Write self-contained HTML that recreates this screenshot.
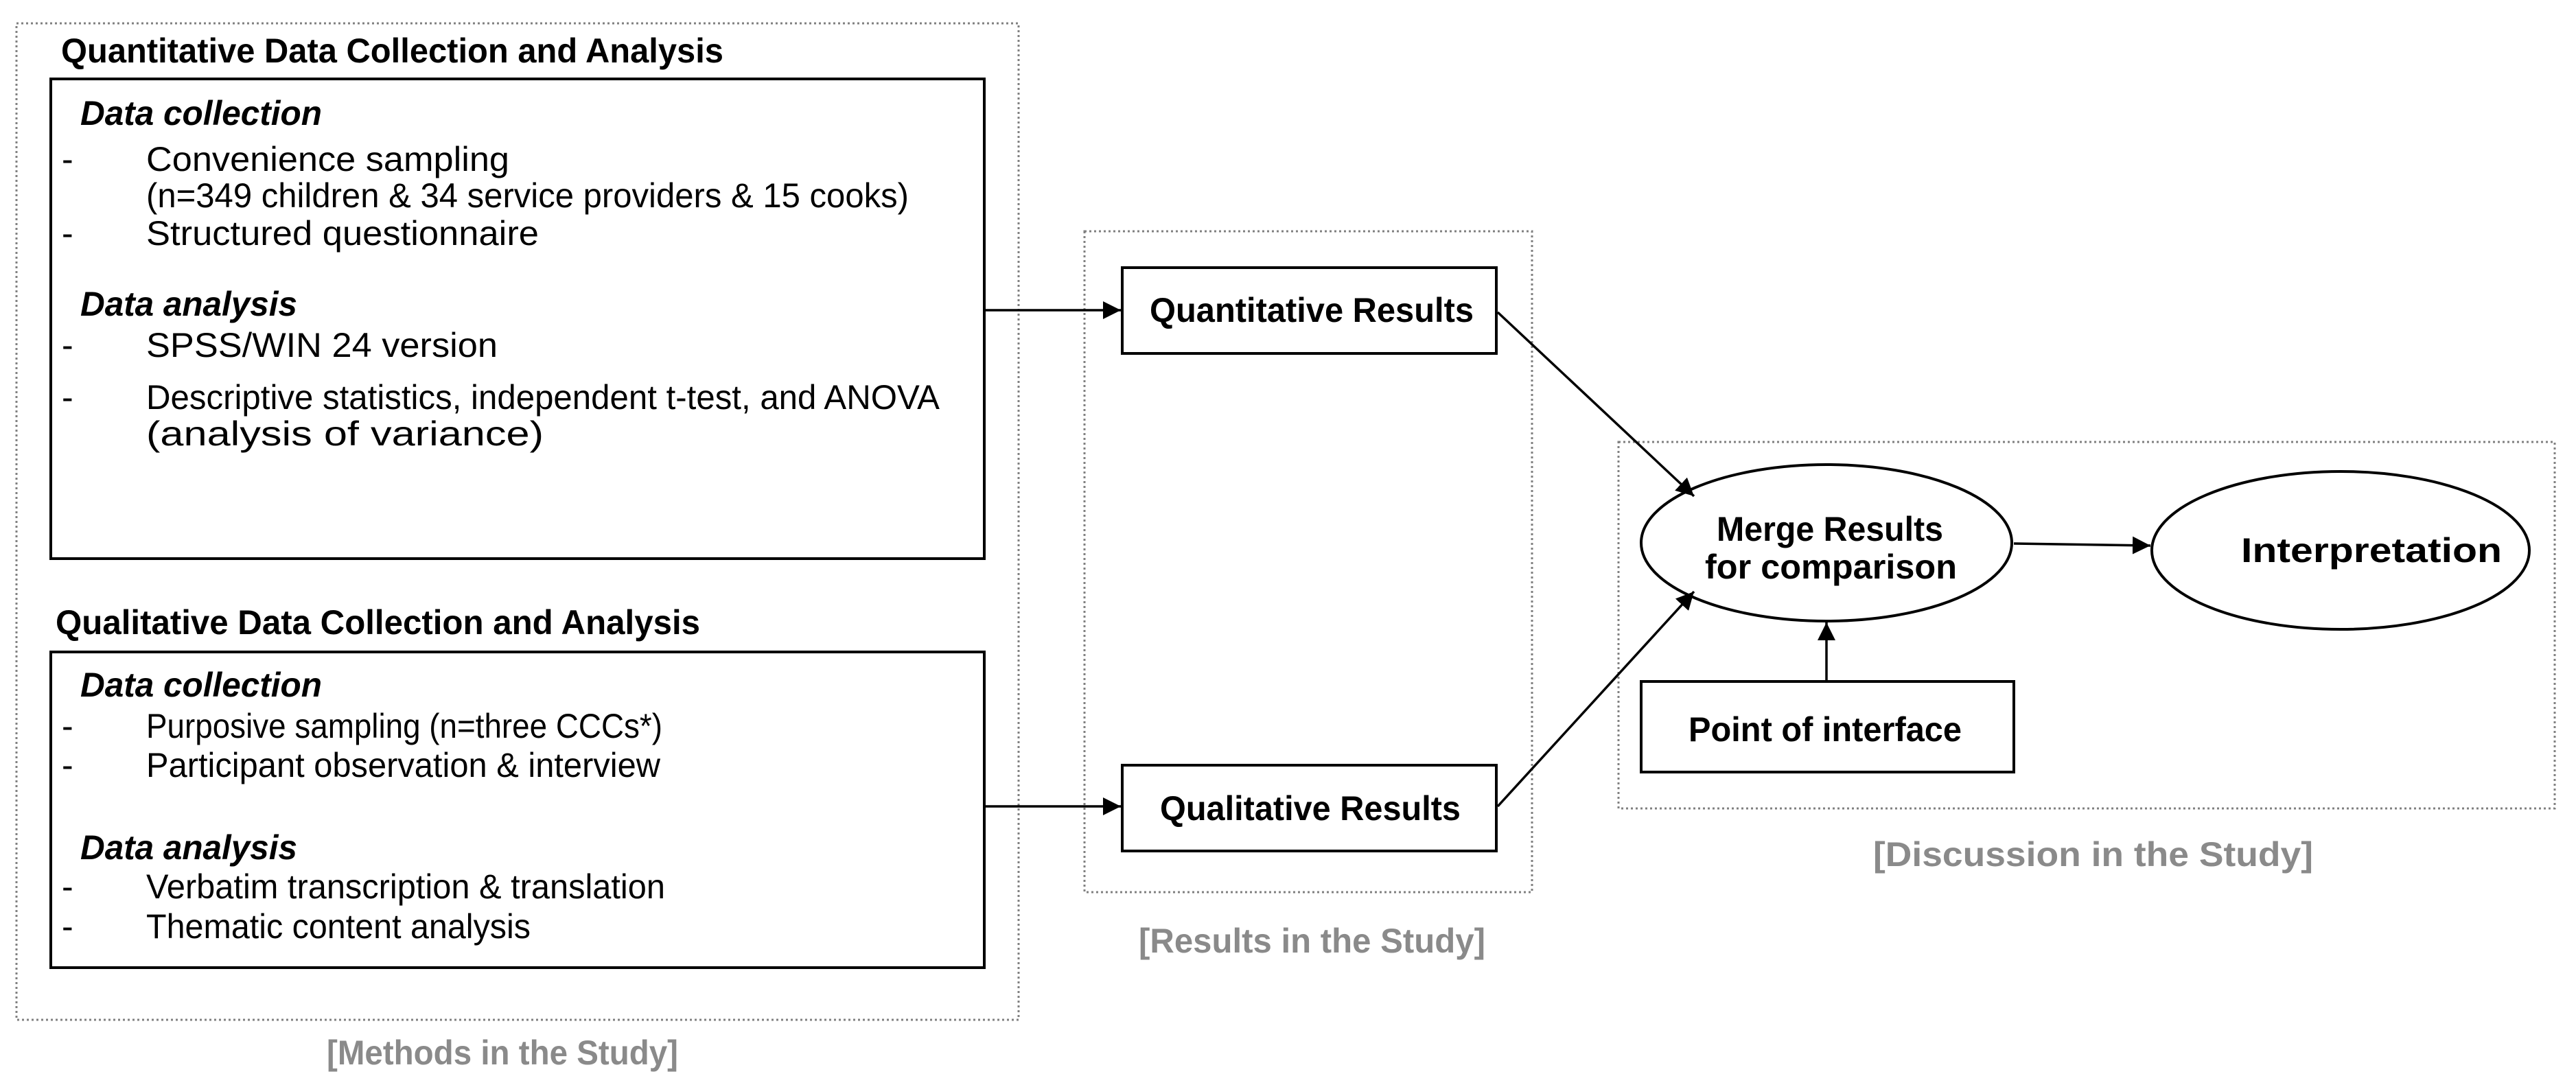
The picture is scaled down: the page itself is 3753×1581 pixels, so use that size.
<!DOCTYPE html>
<html><head><meta charset="utf-8"><style>html,body{margin:0;padding:0;background:#fff}svg{display:block}</style></head>
<body>
<svg width="3753" height="1581" viewBox="0 0 3753 1581" xmlns="http://www.w3.org/2000/svg" font-family="Liberation Sans, Arial, sans-serif">
<defs>
<marker id="a" viewBox="0 0 10 10" refX="10" refY="5" markerWidth="26" markerHeight="26" markerUnits="userSpaceOnUse" orient="auto"><path d="M0,0 L10,5 L0,10 z" fill="#000"/></marker>
</defs>
<g fill="none" stroke="#808080" stroke-width="3" stroke-dasharray="3,4">
<rect x="24" y="34" width="1460" height="1452"/>
<rect x="1580" y="337" width="652" height="963"/>
<rect x="2358" y="644" width="1364" height="534"/>
</g>
<g fill="none" stroke="#000" stroke-width="4">
<rect x="74" y="115" width="1360" height="699"/>
<rect x="74" y="950" width="1360" height="460"/>
<rect x="1635" y="390" width="545" height="125"/>
<rect x="1635" y="1115" width="545" height="125"/>
<rect x="2391" y="993" width="543" height="132"/>
<ellipse cx="2661" cy="791" rx="270" ry="114"/>
<ellipse cx="3410" cy="802" rx="275" ry="115"/>
</g>
<g stroke="#000" stroke-width="3.5" fill="none" marker-end="url(#a)">
<line x1="1436" y1="452" x2="1633" y2="452"/>
<line x1="1436" y1="1175" x2="1633" y2="1175"/>
<line x1="2182" y1="455" x2="2468" y2="723"/>
<line x1="2182" y1="1175" x2="2468" y2="862"/>
<line x1="2661" y1="991" x2="2661" y2="907"/>
<line x1="2934" y1="792" x2="3133" y2="795"/>
</g>
<g fill="#000" font-size="50">
<text x="89" y="91" font-weight="bold" textLength="965" lengthAdjust="spacingAndGlyphs">Quantitative Data Collection and Analysis</text>
<text x="117" y="182" font-weight="bold" font-style="italic" textLength="352" lengthAdjust="spacingAndGlyphs">Data collection</text>
<text x="90" y="249">-</text>
<text x="213" y="249" textLength="529" lengthAdjust="spacingAndGlyphs">Convenience sampling</text>
<text x="213" y="302" textLength="1111" lengthAdjust="spacingAndGlyphs">(n=349 children &amp; 34 service providers &amp; 15 cooks)</text>
<text x="90" y="357">-</text>
<text x="213" y="357" textLength="572" lengthAdjust="spacingAndGlyphs">Structured questionnaire</text>
<text x="117" y="460" font-weight="bold" font-style="italic" textLength="316" lengthAdjust="spacingAndGlyphs">Data analysis</text>
<text x="90" y="520">-</text>
<text x="213" y="520" textLength="512" lengthAdjust="spacingAndGlyphs">SPSS/WIN 24 version</text>
<text x="90" y="596">-</text>
<text x="213" y="596" textLength="1156" lengthAdjust="spacingAndGlyphs">Descriptive statistics, independent t-test, and ANOVA</text>
<text x="213" y="649" textLength="579" lengthAdjust="spacingAndGlyphs">(analysis of variance)</text>

<text x="81" y="924" font-weight="bold" textLength="939" lengthAdjust="spacingAndGlyphs">Qualitative Data Collection and Analysis</text>
<text x="117" y="1015" font-weight="bold" font-style="italic" textLength="352" lengthAdjust="spacingAndGlyphs">Data collection</text>
<text x="90" y="1075">-</text>
<text x="213" y="1075" textLength="752" lengthAdjust="spacingAndGlyphs">Purposive sampling (n=three CCCs*)</text>
<text x="90" y="1132">-</text>
<text x="213" y="1132" textLength="749" lengthAdjust="spacingAndGlyphs">Participant observation &amp; interview</text>
<text x="117" y="1252" font-weight="bold" font-style="italic" textLength="316" lengthAdjust="spacingAndGlyphs">Data analysis</text>
<text x="90" y="1309">-</text>
<text x="213" y="1309" textLength="756" lengthAdjust="spacingAndGlyphs">Verbatim transcription &amp; translation</text>
<text x="90" y="1367">-</text>
<text x="213" y="1367" textLength="560" lengthAdjust="spacingAndGlyphs">Thematic content analysis</text>

<g font-weight="bold">
<text x="1675" y="469" textLength="472" lengthAdjust="spacingAndGlyphs">Quantitative Results</text>
<text x="1690" y="1195" textLength="438" lengthAdjust="spacingAndGlyphs">Qualitative Results</text>
<text x="2501" y="788" textLength="330" lengthAdjust="spacingAndGlyphs">Merge Results</text>
<text x="2484" y="843" textLength="367" lengthAdjust="spacingAndGlyphs">for comparison</text>
<text x="3265" y="819" textLength="380" lengthAdjust="spacingAndGlyphs">Interpretation</text>
<text x="2460" y="1080" textLength="398" lengthAdjust="spacingAndGlyphs">Point of interface</text>
</g>
<g font-weight="bold" fill="#8a8a8a">
<text x="476" y="1551" textLength="512" lengthAdjust="spacingAndGlyphs">[Methods in the Study]</text>
<text x="1659" y="1388" textLength="505" lengthAdjust="spacingAndGlyphs">[Results in the Study]</text>
<text x="2729" y="1262" textLength="641" lengthAdjust="spacingAndGlyphs">[Discussion in the Study]</text>
</g>
</g>
</svg>
</body></html>
